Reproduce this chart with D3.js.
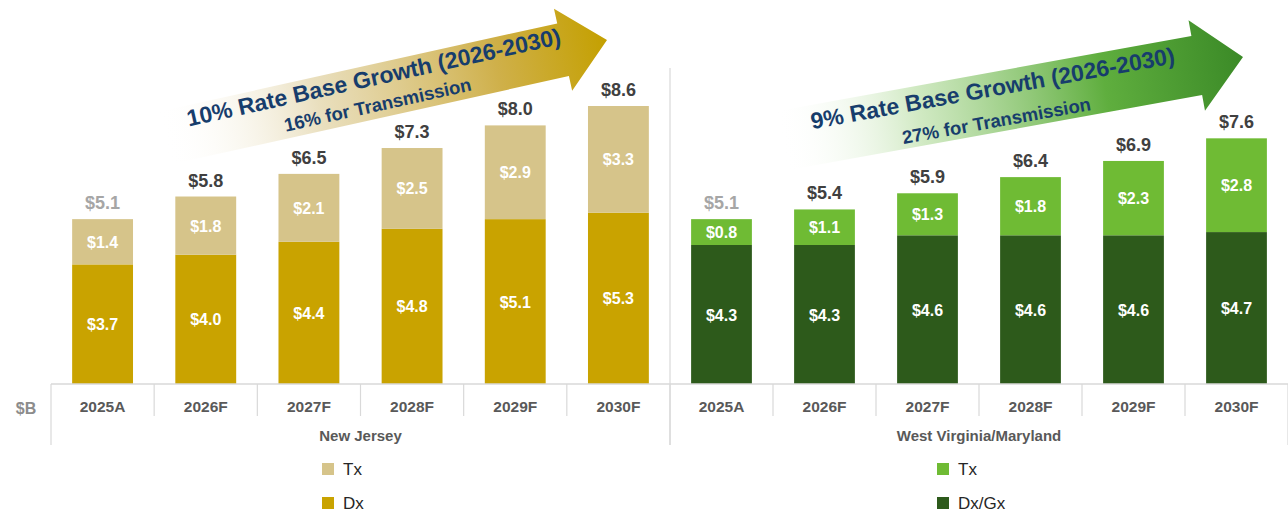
<!DOCTYPE html>
<html>
<head>
<meta charset="utf-8">
<script src="https://cdn.jsdelivr.net/npm/d3@7"></script>
<style>
  body { margin: 0; background: #fff; }
  svg { display: block; font-family: "Liberation Sans", Arial, sans-serif; }
</style>
</head>
<body>
<div id="chart"></div>
<script>
// chart values ($B)
const years = ["2025A", "2026F", "2027F", "2028F", "2029F", "2030F"];
const njDx = [3.7, 4.0, 4.4, 4.8, 5.1, 5.3];
const njTx = [1.4, 1.8, 2.1, 2.5, 2.9, 3.3];
const njTotal = [5.1, 5.8, 6.5, 7.3, 8.0, 8.6];
const wvDx = [4.3, 4.3, 4.6, 4.6, 4.6, 4.7];
const wvTx = [0.8, 1.1, 1.3, 1.8, 2.3, 2.8];
const wvTotal = [5.1, 5.4, 5.9, 6.4, 6.9, 7.6];

const width = 1288, height = 516;
const baseY = 384;

let svg = d3.select("#chart").append("svg")
  .attr("width", width)
  .attr("height", height);

let defs = svg.append("defs");

// shared value scale for both panels
let y = d3.scaleLinear().domain([0, 8.6]).range([baseY, 106]);

const panels = [
  {
    name: "New Jersey", range: [51, 670], dx: njDx, tx: njTx, total: njTotal,
    dxColor: "#c9a300", txColor: "#d6c48a", legend: ["Tx", "Dx"],
    arrow: { id: "gradNJ", tip: [607, 40], angle: -12.5, len: 455, head: 45, headHalf: 42, shaft: 27,
             stops: [["0%", "#ffffff", 0], ["35%", "#e4d7ae", 0.8], ["75%", "#cfb04a", 1], ["100%", "#c4a000", 1]] },
    title: "10% Rate Base Growth (2026-2030)", sub: "16% for Transmission",
    titlePos: [-236, -6], subPos: [-238, 20], legendX: 322
  },
  {
    name: "West Virginia/Maryland", range: [670, 1288], dx: wvDx, tx: wvTx, total: wvTotal,
    dxColor: "#2d5a1b", txColor: "#6fbb34", legend: ["Tx", "Dx/Gx"],
    arrow: { id: "gradWV", tip: [1243, 57], angle: -10.3, len: 470, head: 47, headHalf: 46, shaft: 30,
             stops: [["0%", "#ffffff", 0], ["30%", "#c5e4b4", 0.8], ["70%", "#5fae3e", 1], ["100%", "#3b8a27", 1]] },
    title: "9% Rate Base Growth (2026-2030)", sub: "27% for Transmission",
    titlePos: [-252, -6], subPos: [-254, 25], legendX: 937
  }
];

panels.forEach(function (p) {
  let x = d3.scaleBand().domain(years).range(p.range).paddingInner(0.41).paddingOuter(0.205);
  let g = svg.append("g");

  // growth arrow
  let a = p.arrow;
  let grad = defs.append("linearGradient").attr("id", a.id)
    .attr("x1", "0%").attr("y1", "0%").attr("x2", "100%").attr("y2", "0%");
  a.stops.forEach(function (s) {
    grad.append("stop").attr("offset", s[0]).attr("stop-color", s[1]).attr("stop-opacity", s[2]);
  });
  let ag = g.append("g").attr("transform", `translate(${a.tip[0]},${a.tip[1]}) rotate(${a.angle})`);
  let pts = [[0, 0], [-a.head, -a.headHalf], [-a.head, -a.shaft], [-a.len, -a.shaft],
             [-a.len, a.shaft], [-a.head, a.shaft], [-a.head, a.headHalf]];
  ag.append("path")
    .attr("d", "M" + pts.join("L") + "Z")
    .style("fill", `url(#${a.id})`);
  ag.append("text")
    .attr("x", p.titlePos[0]).attr("y", p.titlePos[1])
    .attr("text-anchor", "middle")
    .style("font-size", "23px").style("font-weight", "bold").style("fill", "#173d6c")
    .text(p.title);
  ag.append("text")
    .attr("x", p.subPos[0]).attr("y", p.subPos[1])
    .attr("text-anchor", "middle")
    .style("font-size", "18.5px").style("font-weight", "bold").style("fill", "#173d6c")
    .text(p.sub);

  // bars
  let data = years.map((yr, i) => ({ yr: yr, dx: p.dx[i], tx: p.tx[i], total: p.total[i] }));
  g.selectAll(".dx").data(data).enter().append("rect")
    .attr("x", d => x(d.yr)).attr("width", x.bandwidth())
    .attr("y", d => y(d.dx)).attr("height", d => baseY - y(d.dx))
    .style("fill", p.dxColor);
  g.selectAll(".tx").data(data).enter().append("rect")
    .attr("x", d => x(d.yr)).attr("width", x.bandwidth())
    .attr("y", d => y(d.total)).attr("height", d => y(d.dx) - y(d.total))
    .style("fill", p.txColor);

  // segment labels
  g.selectAll(".dxl").data(data).enter().append("text")
    .attr("x", d => x(d.yr) + x.bandwidth() / 2)
    .attr("y", d => (y(d.dx) + baseY) / 2 + 6)
    .attr("text-anchor", "middle")
    .style("font-size", "16px").style("font-weight", "bold").style("fill", "#fff")
    .text(d => "$" + d3.format(".1f")(d.dx));
  g.selectAll(".txl").data(data).enter().append("text")
    .attr("x", d => x(d.yr) + x.bandwidth() / 2)
    .attr("y", d => (y(d.dx) + y(d.total)) / 2 + 6)
    .attr("text-anchor", "middle")
    .style("font-size", "16px").style("font-weight", "bold").style("fill", "#fff")
    .text(d => "$" + d3.format(".1f")(d.tx));
  // totals
  g.selectAll(".tot").data(data).enter().append("text")
    .attr("x", d => x(d.yr) + x.bandwidth() / 2)
    .attr("y", d => y(d.total) - 10)
    .attr("text-anchor", "middle")
    .style("font-size", "18px").style("font-weight", "bold")
    .style("fill", (d, i) => i === 0 ? "#a6a6a6" : "#404040")
    .text(d => "$" + d3.format(".1f")(d.total));

  // category axis
  g.append("line")
    .attr("x1", p.range[0]).attr("x2", p.range[1]).attr("y1", baseY).attr("y2", baseY)
    .style("stroke", "#d9d9d9").style("stroke-width", 1.5);
  let step = x.step();
  d3.range(years.length + 1).forEach(function (i) {
    let xx = p.range[0] + i * step;
    let outer = (i === 0 || i === years.length);
    g.append("line")
      .attr("x1", xx).attr("x2", xx)
      .attr("y1", baseY).attr("y2", outer ? 445 : 416)
      .style("stroke", "#d9d9d9").style("stroke-width", 1.2);
  });
  g.selectAll(".yr").data(years).enter().append("text")
    .attr("x", d => x(d) + x.bandwidth() / 2)
    .attr("y", 412)
    .attr("text-anchor", "middle")
    .style("font-size", "15.5px").style("font-weight", "bold").style("fill", "#595959")
    .text(d => d);
  g.append("text")
    .attr("x", (p.range[0] + p.range[1]) / 2)
    .attr("y", 441)
    .attr("text-anchor", "middle")
    .style("font-size", "15px").style("font-weight", "bold").style("fill", "#595959")
    .text(p.name);

  // legend
  let lg = g.append("g").attr("transform", `translate(${p.legendX},0)`);
  [p.txColor, p.dxColor].forEach(function (c, i) {
    let cy = 469 + i * 34;
    lg.append("rect").attr("x", 0).attr("y", cy - 6).attr("width", 12).attr("height", 12).style("fill", c);
    lg.append("text").attr("x", 21).attr("y", cy + 6)
      .style("font-size", "17px").style("fill", "#262626")
      .text(p.legend[i]);
  });
});

// panel separator (top part above axis)
svg.append("line")
  .attr("x1", 670).attr("x2", 670).attr("y1", 68).attr("y2", baseY)
  .style("stroke", "#d9d9d9").style("stroke-width", 1.2);

svg.append("text")
  .attr("x", 26).attr("y", 414)
  .attr("text-anchor", "middle")
  .style("font-size", "16px").style("font-weight", "bold").style("fill", "#8c8c8c")
  .text("$B");
</script>
</body>
</html>
